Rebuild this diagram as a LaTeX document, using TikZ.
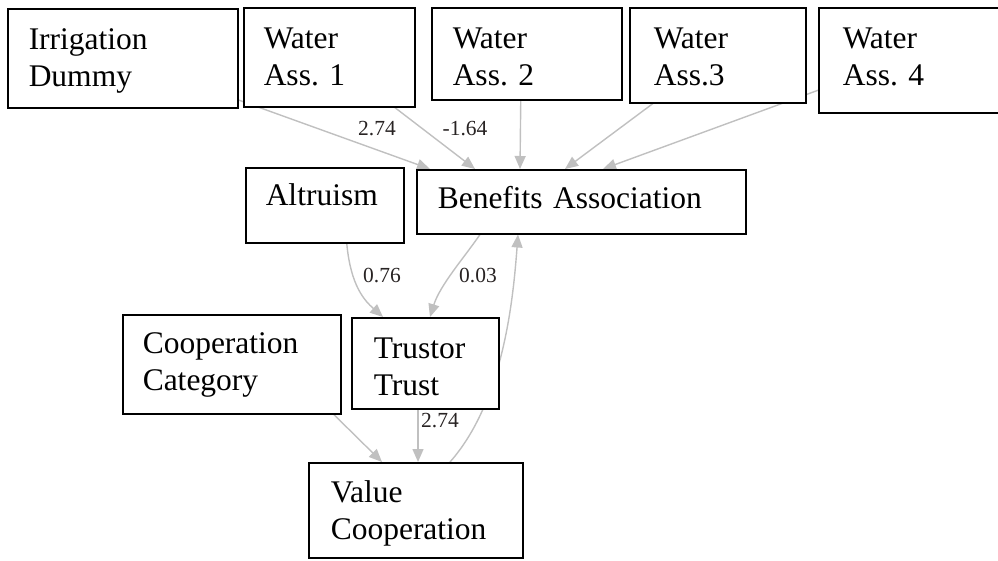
\documentclass[tikz,border=0pt]{standalone}
\usepackage{fontspec}
\setmainfont{Liberation Serif}
\frenchspacing
\usetikzlibrary{arrows.meta,calc,backgrounds}
\definecolor{edgegray}{RGB}{192,192,192}
\definecolor{labgray}{RGB}{40,35,35}
\newcommand{\boxfont}{\fontsize{31.5}{37}\selectfont}
\newcommand{\labfont}{\fontsize{21.5}{24}\selectfont}
\tikzset{
  nbox/.style={draw=black, line width=1.5pt, fill=white, anchor=north west,
    inner ysep=0pt, align=left, font=\boxfont},
  edgeline/.style={draw=edgegray, line width=1.4pt, -{Triangle[length=13pt,width=11pt]}},
  elabel/.style={font=\labfont, text=labgray, inner sep=0pt},
}
\begin{document}
\begin{tikzpicture}[x=1pt,y=-1pt]
\useasboundingbox (0,0) rectangle (998,560);
\clip (0,0) rectangle (998,560);
% boxes
\node[nbox, inner xsep=21pt, text width=188pt, text height=41pt, text depth=58pt] (irr) at (7,8) {Irrigation\\Dummy};
\node[nbox, inner xsep=20pt, text width=131pt, text height=41pt, text depth=58pt] (wa1) at (243,7) {Water\\Ass. 1};
\node[nbox, inner xsep=21pt, text width=148pt, text height=41pt, text depth=51pt] (wa2) at (431,7) {Water\\Ass. 2};
\node[nbox, inner xsep=24pt, text width=128pt, text height=41pt, text depth=54pt] (wa3) at (629,7) {Water\\Ass.3};
\node[nbox, inner xsep=24pt, text width=152pt, text height=41pt, text depth=64pt] (wa4) at (818,7) {Water\\Ass. 4};
\node[nbox, inner xsep=20pt, text width=118pt, text height=38pt, text depth=37pt] (alt) at (245,167) {Altruism};
\node[nbox, inner xsep=21pt, text width=287pt, text height=39pt, text depth=25pt] (ben) at (416,169) {Benefits Association};
\node[nbox, inner xsep=20pt, text width=178pt, text height=39pt, text depth=60pt] (coop) at (122,314) {Cooperation\\Category};
\node[nbox, inner xsep=22pt, text width=103pt, text height=41pt, text depth=50pt] (tru) at (351,317) {Trustor\\Trust};
\node[nbox, inner xsep=22pt, text width=170pt, text height=40pt, text depth=55pt] (val) at (308,462) {Value\\Cooperation};
% edges behind boxes
\begin{scope}[on background layer]
\draw[edgeline] (irr.center) -- ($(ben.north west)+(14,0)$);
\draw[edgeline] (wa1.center) -- ($(ben.north west)+(59,0)$);
\draw[edgeline] ($(wa2.south)+(-6,0)$) -- ($(ben.north west)+(104,0)$);
\draw[edgeline] (wa3.center) -- ($(ben.north west)+(149,0)$);
\draw[edgeline] ($(wa4.west)+(82,0)$) -- ($(ben.north west)+(187,0)$);
\draw[edgeline] ($(alt.south)+(22,0)$) .. controls +(4,43) and +(-18,-16) .. ($(tru.north west)+(32,0)$);
\draw[edgeline] ($(ben.south west)+(64,0)$) .. controls +(-15,22) and +(10,-32) .. ($(tru.north west)+(79,0)$);
\draw[edgeline] ($(val.north west)+(142,0)$) .. controls +(53,-60) and +(-5,67) .. ($(ben.south west)+(102,0)$);
\draw[edgeline] ($(tru.south west)+(67,0)$) -- ($(val.north west)+(110,0)$);
\draw[edgeline] ($(coop.south east)+(-28,-20)$) -- ($(val.north west)+(74,0)$);
\end{scope}
% edge labels
\node[elabel] (l1) at (377,129) {2.74};
\node[elabel] (l2) at (465,129) {-1.64};
\node[elabel] (l3) at (382,275) {0.76};
\node[elabel] (l4) at (478,275) {0.03};
\node[elabel] (l5) at (440,421) {2.74};
\end{tikzpicture}
\end{document}
